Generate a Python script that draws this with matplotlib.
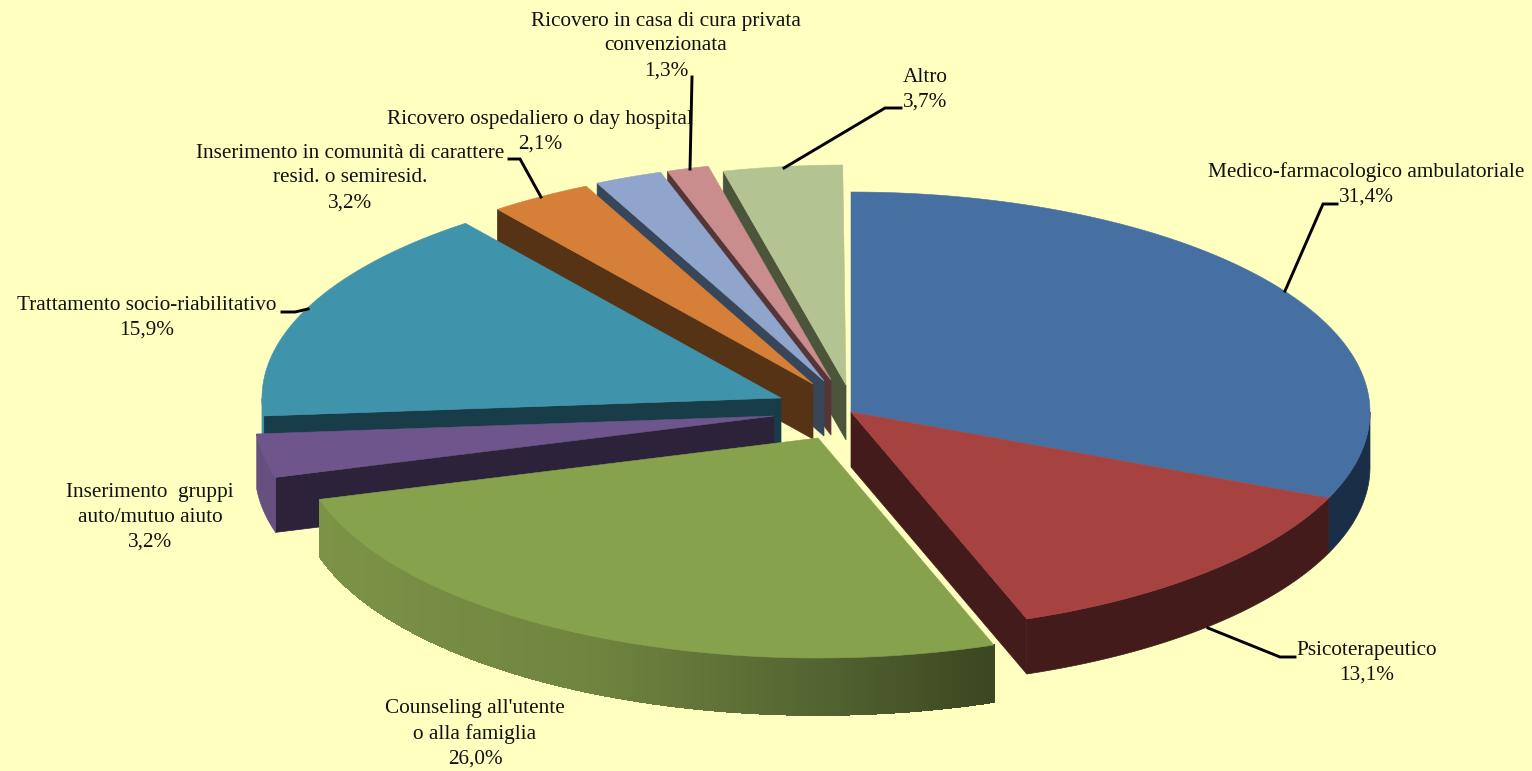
import numpy as np
import matplotlib
matplotlib.use('Agg')
import matplotlib.pyplot as plt
from matplotlib.colors import to_rgb

# data
categories = ["Medico-farmacologico ambulatoriale", "Psicoterapeutico",
              "Counseling all'utente\no alla famiglia", "Inserimento  gruppi\nauto/mutuo aiuto",
              "Trattamento socio-riabilitativo",
              "Inserimento in comunità di carattere\nresid. o semiresid.",
              "Ricovero ospedaliero o day hospital",
              "Ricovero in casa di cura privata\nconvenzionata", "Altro"]
values = [31.4, 13.1, 26.0, 3.2, 15.9, 3.2, 2.1, 1.3, 3.7]

# styles
top_colors = ['#4670A2', '#A64341', '#87A24C', '#6E558B', '#3F94AB', '#D57F38', '#8FA5CB', '#C88D8C', '#B3C492']
rim_colors = ['#1A2F47', '#421B1A', None, '#65507F', '#3F94AB', None, None, None, None]
cut_colors = [None, '#421B1A', None, '#2C223A', '#183C48', '#573316', '#38465A', '#553638', '#4C5439']
green_stops = ['#7C9347', '#6F843E', '#566733', '#3B4720']

# layout, in pixels of the 1532x771 picture
centers = [(851, 412), (851, 412), (818, 438), (774, 416), (781, 398),
           (813, 384), (824, 381), (831, 380), (846, 385)]
rx, ry, depth = 519, 220, 55
label_xy = [(1366, 184), (1367, 663), (475, 734), (150, 517), (147, 318),
            (350, 178), (540, 132), (666, 46), (925, 90)]
leaders = [[(1285, 291), (1323, 204), (1337, 204)],
           [(1208, 628), (1280, 657), (1295, 657)],
           [(308, 309), (295, 312), (282, 312)],
           [(541, 197), (520, 159), (509, 159)],
           [(690, 169), (692, 77)],
           [(784, 168), (885, 108), (901, 108)]]

fig = plt.figure(figsize=(15.32, 7.71), dpi=100, facecolor='#FFFFC0')
ax = fig.add_axes([0, 0, 1, 1])
ax.set_xlim(0, 1532)
ax.set_ylim(771, 0)
ax.axis('off')


def arc(cx, cy, a1, a2, dy=0):
    th = np.radians(np.linspace(a1, a2, max(int(abs(a2 - a1) * 3), 2)))
    return cx + rx * np.cos(th), cy - ry * np.sin(th) + dy


edges = 90 - np.cumsum([0] + values) * 3.6
order = [8, 7, 6, 5, 4, 3, 0, 1, 2]

for i in order:
    cx, cy = centers[i]
    a1, a2 = edges[i], edges[i + 1]
    z = 1 + order.index(i)

    # cut face. red shows its clockwise edge, the others their start edge
    if cut_colors[i]:
        a = a2 if i == 1 else a1
        px = cx + rx * np.cos(np.radians(a))
        py = cy - ry * np.sin(np.radians(a))
        ax.fill([cx, px, px, cx], [cy, py, py + depth, cy + depth],
                color=cut_colors[i], lw=0.5, zorder=z)

    # outer rim, only the part facing the viewer
    lo, hi = max(a2, -180), min(a1, 0)
    if hi > lo:
        if i == 2:
            xs, ys = arc(cx, cy, lo, hi)
            xb, yb = arc(cx, cy, lo, hi, depth + 2)
            stops = np.array([to_rgb(c) for c in green_stops])
            pos = [318, 600, 800, 993]
            for k in range(len(xs) - 1):
                mid = (xs[k] + xs[k + 1]) / 2
                col = [np.interp(mid, pos, stops[:, n]) for n in range(3)]
                ax.fill([xs[k], xs[k + 1], xb[k + 1], xb[k]], [ys[k], ys[k + 1], yb[k + 1], yb[k]],
                        color=col, lw=0.6, antialiased=False, zorder=z)
        else:
            xs, ys = arc(cx, cy, lo, hi)
            xb, yb = arc(cx, cy, hi, lo, depth)
            ax.fill(np.r_[xs, xb], np.r_[ys, yb], color=rim_colors[i], lw=0.5, zorder=z)

    # top face
    xs, ys = arc(cx, cy, a1, a2)
    ax.fill(np.r_[cx, xs], np.r_[cy, ys], color=top_colors[i], lw=0.4, zorder=z + 0.5)

for pts in leaders:
    ax.plot(*zip(*pts), color='black', lw=2.1, solid_joinstyle='miter', zorder=20)

for name, v, (x, y) in zip(categories, values, label_xy):
    txt = name + '\n' + f'{v:.1f}'.replace('.', ',') + '%'
    ax.text(x, y, txt, ha='center', va='center', family='Liberation Serif', fontsize=15.35,
            color='#111111', linespacing=1.42, zorder=21)

fig.savefig('out.png', dpi=100, facecolor=fig.get_facecolor())
